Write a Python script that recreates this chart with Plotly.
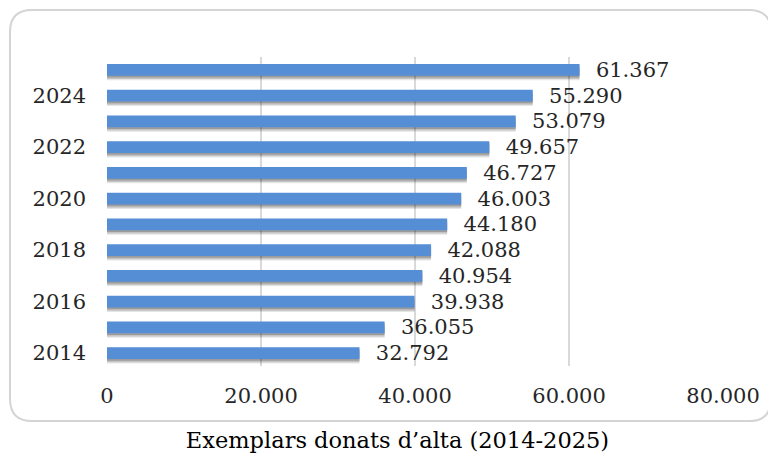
import plotly.graph_objects as go

years = [2014, 2015, 2016, 2017, 2018, 2019, 2020, 2021, 2022, 2023, 2024, 2025]
values = [32792, 36055, 39938, 40954, 42088, 44180, 46003, 46727, 49657, 53079, 55290, 61367]
year_ticks = [2014, 2016, 2018, 2020, 2022, 2024]
x_ticks = [0, 20000, 40000, 60000, 80000]
title_text = "Exemplars donats d\u2019alta (2014-2025)"

W, H = 776, 455
OFF = 8  # page offset of the figure in the browser
L, R, T, B = 107 - OFF, 53 + OFF, 57 - OFF, 89 + OFF
FONT = "DejaVu Serif"
BAR = "#558ED5"

fig = go.Figure()
bw = 0.46
# soft shadow layers
for dy, alpha in [(0.17, 0.10), (0.12, 0.15), (0.07, 0.20)]:
    fig.add_trace(go.Bar(x=values, y=years, orientation="h", width=bw,
                         offset=-bw / 2 - dy, marker=dict(color=f"rgba(0,0,0,{alpha})", line_width=0),
                         hoverinfo="skip", showlegend=False))
fig.add_trace(go.Bar(x=values, y=years, orientation="h", width=bw, offset=-bw / 2,
                     marker=dict(color=BAR, line_width=0),
                     texttemplate="  %{x:,.0f}", textposition="outside", cliponaxis=False,
                     constraintext="none",
                     textfont=dict(family=FONT, size=21, color="#262626"),
                     showlegend=False))

# rounded border (pixel -> paper conversion), pixels in reference coordinates
pw, ph = W - L - R, H - T - B
def px(x): return (x - OFF - L) / pw
def py(y): return (H - B - (y - OFF)) / ph
x0, x1, y0, y1, r = 10, 771, 10, 421, 22
path = (f"M {px(x0+r)},{py(y0)} L {px(x1-r)},{py(y0)} Q {px(x1)},{py(y0)} {px(x1)},{py(y0+r)} "
        f"L {px(x1)},{py(y1-r)} Q {px(x1)},{py(y1)} {px(x1-r)},{py(y1)} "
        f"L {px(x0+r)},{py(y1)} Q {px(x0)},{py(y1)} {px(x0)},{py(y1-r)} "
        f"L {px(x0)},{py(y0+r)} Q {px(x0)},{py(y0)} {px(x0+r)},{py(y0)} Z")
fig.add_shape(type="path", path=path, xref="paper", yref="paper",
              line=dict(color="#d4d4d4", width=2), layer="below")

fig.update_layout(
    width=W, height=H, margin=dict(l=L, r=R, t=T, b=B),
    paper_bgcolor="white", plot_bgcolor="white",
    separators=",.", barmode="overlay",
    font=dict(family=FONT, size=21, color="#262626"),
    title=dict(text=title_text, x=(397.5 - OFF) / W, xref="container", xanchor="center",
               y=1 - (440 - OFF) / H, yref="container", yanchor="middle",
               font=dict(family=FONT, size=22.5, color="#000000")),
    xaxis=dict(range=[0, 80000], tickvals=x_ticks, tickformat=",d",
               showgrid=True, gridcolor="#d9d9d9", gridwidth=1.5,
               zeroline=False, showline=False, ticks="", ticklabelstandoff=15,
               tickfont=dict(family=FONT, size=21, color="#262626"), fixedrange=True),
    yaxis=dict(range=[2013.5, 2025.5], tickvals=year_ticks, showgrid=False,
               zeroline=False, showline=False, ticks="", ticklabelstandoff=20,
               tickfont=dict(family=FONT, size=21, color="#262626"), fixedrange=True),
)

fig.write_html("out.html")
